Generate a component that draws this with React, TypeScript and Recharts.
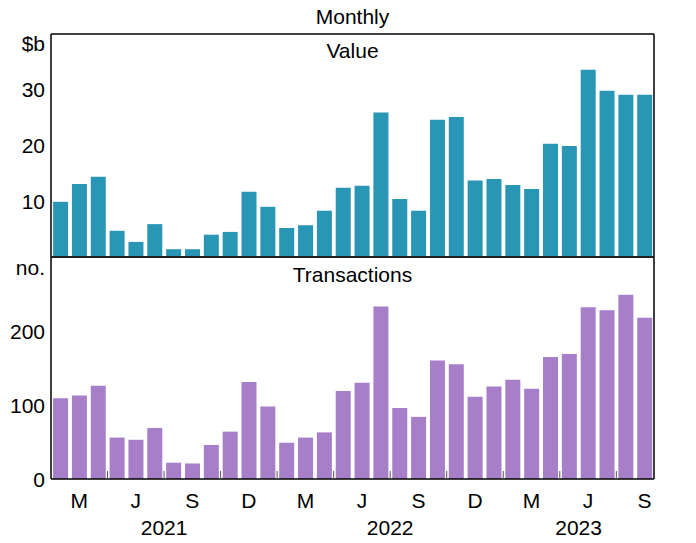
import { BarChart, Bar, XAxis, YAxis, CartesianGrid, ReferenceLine } from 'recharts';

// monthly observations, Jan 2021 - Aug 2023
const months = [
  '2021-01', '2021-02', '2021-03', '2021-04', '2021-05', '2021-06', '2021-07', '2021-08',
  '2021-09', '2021-10', '2021-11', '2021-12', '2022-01', '2022-02', '2022-03', '2022-04',
  '2022-05', '2022-06', '2022-07', '2022-08', '2022-09', '2022-10', '2022-11', '2022-12',
  '2023-01', '2023-02', '2023-03', '2023-04', '2023-05', '2023-06', '2023-07', '2023-08',
];

// $b
const valueData = [
  9.9, 13.1, 14.4, 4.7, 2.7, 5.9, 1.4, 1.4, 4.0, 4.5, 11.7, 9.0, 5.2, 5.7, 8.3, 12.4,
  12.8, 25.9, 10.4, 8.3, 24.6, 25.1, 13.7, 14.0, 12.9, 12.2, 20.3, 19.9, 33.6, 29.8, 29.1, 29.1,
];

// no.
const transactionData = [
  109, 113, 126, 56, 53, 69, 22, 21, 46, 64, 131, 98, 49, 56, 63, 119,
  130, 233, 96, 84, 160, 155, 111, 125, 134, 122, 165, 169, 232, 228, 249, 218,
];

// quarter labels sit under the middle month of each quarter
const quarterLetters: { [m: number]: string } = { 2: 'M', 5: 'J', 8: 'S', 11: 'D' };

const valueTicks = [10, 20, 30, 40];
const transactionTicks = [0, 100, 200, 300];

const W = 696;
const LEFT = 51;
const RIGHT = 42;
const band = (W - LEFT - RIGHT) / months.length;
const FONT = '"Liberation Sans", Arial, sans-serif';
const FS = 21;

const rows = months.map((m, i) => ({ month: m, value: valueData[i], transactions: transactionData[i] }));

// centre of each year's run of months
const yearCentres: { [i: number]: { label: string; shift: number } } = {};
Array.from(new Set(months.map(m => m.slice(0, 4)))).forEach(yr => {
  const idx = months.map((m, i) => (m.startsWith(yr) ? i : -1)).filter(i => i >= 0);
  const c = (idx[0] + idx[idx.length - 1]) / 2;
  yearCentres[Math.floor(c)] = { label: yr, shift: (c - Math.floor(c)) * band };
});

const makeYTick = (side: 'left' | 'right', topValue: number, unit: string, unitShift: number) => (props: any) => {
  const { x, y, payload } = props;
  const isTop = payload.value === topValue;
  return (
    <text
      x={x}
      y={y + 7.5 + (isTop ? unitShift : 0)}
      textAnchor={side === 'left' ? 'end' : 'start'}
      fontFamily={FONT}
      fontSize={FS}
      fill="#000"
    >
      {isTop ? unit : payload.value}
    </text>
  );
};

const XTick = (props: any) => {
  const { x, y, index } = props;
  const mm = Number(months[index].slice(5, 7));
  const letter = quarterLetters[mm];
  const year = yearCentres[index];
  return (
    <g>
      {letter && (
        <text x={x} y={y + 29} textAnchor="middle" fontFamily={FONT} fontSize={FS} fill="#000">
          {letter}
        </text>
      )}
      {mm % 3 === 0 && index < months.length - 1 && (
        <line x1={x + band / 2} x2={x + band / 2} y1={y - 8} y2={y} stroke="#555" strokeWidth={1} />
      )}
      {year && (
        <text x={x + year.shift} y={y + 56} textAnchor="middle" fontFamily={FONT} fontSize={FS} fill="#000">
          {year.label}
        </text>
      )}
    </g>
  );
};

export default function App() {
  return (
    <div style={{ position: 'absolute', left: 0, top: 0, width: W, height: 543, background: '#fff' }}>
      <div style={{ position: 'absolute', left: 0, top: 0 }}>
        <BarChart width={W} height={257} data={rows} margin={{ top: 34, right: 0, bottom: 0, left: 0 }} barCategoryGap="11%">
          <CartesianGrid horizontal vertical={false} horizontalValues={[10, 20, 30]} stroke="#c4c4c4" />
          <XAxis dataKey="month" hide />
          <YAxis
            yAxisId="l"
            orientation="left"
            width={LEFT}
            domain={[0, 40]}
            ticks={valueTicks}
            interval={0}
            tickLine={false}
            tickSize={0}
            tickMargin={6}
            axisLine={{ stroke: '#000', strokeWidth: 1.5 }}
            tick={makeYTick('left', 40, '$b', 9)}
          />
          <YAxis
            yAxisId="r"
            orientation="right"
            width={RIGHT}
            domain={[0, 40]}
            ticks={valueTicks}
            interval={0}
            tickLine={false}
            tickSize={0}
            tickMargin={4}
            axisLine={{ stroke: '#000', strokeWidth: 1.5 }}
            tick={makeYTick('right', 40, '$b', 9)}
          />
          <ReferenceLine yAxisId="l" y={40} stroke="#000" strokeWidth={1.5} />
          <Bar yAxisId="l" dataKey="value" fill="#2a96b6" isAnimationActive={false} />
        </BarChart>
      </div>
      <div style={{ position: 'absolute', left: 0, top: 250 }}>
        <BarChart width={W} height={293} data={rows} margin={{ top: 7, right: 0, bottom: 0, left: 0 }} barCategoryGap="11%">
          <CartesianGrid horizontal vertical={false} horizontalValues={[100, 200]} stroke="#c4c4c4" />
          <XAxis
            dataKey="month"
            height={64}
            interval={0}
            tickLine={false}
            tickSize={0}
            tickMargin={0}
            axisLine={{ stroke: '#000', strokeWidth: 1.5 }}
            tick={XTick}
          />
          <YAxis
            yAxisId="l"
            orientation="left"
            width={LEFT}
            domain={[0, 300]}
            ticks={transactionTicks}
            interval={0}
            tickLine={false}
            tickSize={0}
            tickMargin={6}
            axisLine={{ stroke: '#000', strokeWidth: 1.5 }}
            tick={makeYTick('left', 300, 'no.', 10)}
          />
          <YAxis
            yAxisId="r"
            orientation="right"
            width={RIGHT}
            domain={[0, 300]}
            ticks={transactionTicks}
            interval={0}
            tickLine={false}
            tickSize={0}
            tickMargin={4}
            axisLine={{ stroke: '#000', strokeWidth: 1.5 }}
            tick={makeYTick('right', 300, 'no.', 10)}
          />
          <ReferenceLine yAxisId="l" y={300} stroke="#222" strokeWidth={2} />
          <Bar yAxisId="l" dataKey="transactions" fill="#a67fc8" isAnimationActive={false} />
        </BarChart>
      </div>
      <svg width={W} height={543} style={{ position: 'absolute', left: 0, top: 0, pointerEvents: 'none' }}>
        <g fontFamily={FONT} fontSize={FS} fill="#000" textAnchor="middle">
          <text x={(LEFT + W - RIGHT) / 2} y={23.5}>Monthly</text>
          <text x={(LEFT + W - RIGHT) / 2} y={58}>Value</text>
          <text x={(LEFT + W - RIGHT) / 2} y={282}>Transactions</text>
        </g>
      </svg>
    </div>
  );
}
